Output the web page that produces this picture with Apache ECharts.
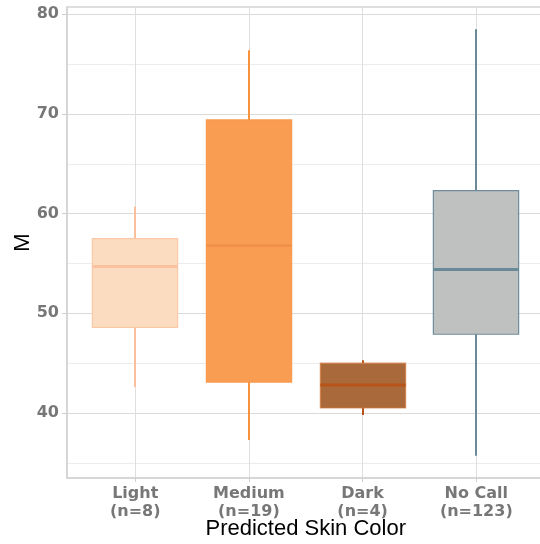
<!DOCTYPE html>
<html>
<head>
<meta charset="utf-8">
<style>
  html, body { margin: 0; padding: 0; background: #ffffff; }
  #chart { width: 540px; height: 544px; }
</style>
<script src="https://cdn.jsdelivr.net/npm/echarts@6/dist/echarts.min.js"></script>
</head>
<body>
<div id="chart"></div>
<script>
// ---- data ----
var categories = ['Light', 'Medium', 'Dark', 'No Call'];
var counts = [8, 19, 4, 123];
var whiskerLow  = [42.6, 37.3, 39.8, 35.7];
var q1          = [48.6, 43.1, 40.5, 47.9];
var median      = [54.7, 56.8, 42.8, 54.4];
var q3          = [57.5, 69.4, 45.0, 62.3];
var whiskerHigh = [60.7, 76.4, 45.3, 78.5];
var yMajorTicks = [40, 50, 60, 70, 80];
var yMinorTicks = [35, 45, 55, 65, 75];

// ---- styles ----
var boxStyles = [
  { fill: '#fcdcc0', stroke: '#fbc9a8', median: '#fac3a0', whisker: '#fbbf9c', medW: 3 },
  { fill: '#f89d52', stroke: '#f89a4e', median: '#f08f4a', whisker: '#f7923f', medW: 2.5 },
  { fill: '#a9693a', stroke: 'rgba(214,120,60,0.75)', median: '#b6541a', whisker: '#b6541a', medW: 3 },
  { fill: '#bfc1c0', stroke: '#6f8d9c', median: '#6b8a99', whisker: '#6b8a99', medW: 3 }
];

var boxData = categories.map(function (c, i) {
  return [i + 1, whiskerLow[i], q1[i], median[i], q3[i], whiskerHigh[i]];
});

var chart = echarts.init(document.getElementById('chart'), null, { renderer: 'canvas' });

var option = {
  animation: false,
  backgroundColor: '#ffffff',
  grid: {
    left: 67, top: 7, right: -4.5, bottom: 66,
    show: true, borderColor: '#d3d3d3', borderWidth: 1.5, backgroundColor: 'transparent',
    containLabel: false, outerBoundsMode: 'none'
  },
  xAxis: {
    type: 'value', min: 0.4, max: 4.6,
    name: 'Predicted Skin Color', nameLocation: 'middle', nameGap: 40, nameMoveOverlap: false,
    nameTextStyle: { fontFamily: 'Liberation Sans', fontSize: 22, color: '#000000' },
    axisLine: { show: true, lineStyle: { color: '#d3d3d3', width: 1.5 } },
    axisTick: { show: true, length: 4, customValues: [1, 2, 3, 4], lineStyle: { color: '#cfcfcf', width: 1 } },
    axisLabel: {
      show: true, customValues: [1, 2, 3, 4], margin: 7,
      fontFamily: 'DejaVu Sans', fontWeight: 'bold', fontSize: 16, lineHeight: 18, color: '#777777',
      formatter: function (v) {
        var i = Math.round(v) - 1;
        return categories[i] + '\n(n=' + counts[i] + ')';
      }
    },
    splitLine: { show: true, lineStyle: { color: '#dedede', width: 1 } }
  },
  yAxis: [
    {
      type: 'value', min: 33.48, max: 80.73,
      name: 'M', nameLocation: 'middle', nameGap: 33, nameRotate: 90, nameMoveOverlap: false,
      nameTextStyle: { fontFamily: 'Liberation Sans', fontSize: 22, color: '#000000' },
      axisLine: { show: true, lineStyle: { color: '#d3d3d3', width: 1.5 } },
      axisTick: { show: true, length: 5, customValues: yMajorTicks, lineStyle: { color: '#cfcfcf', width: 1 } },
      axisLabel: {
        show: true, customValues: yMajorTicks, margin: 8,
        fontFamily: 'DejaVu Sans', fontWeight: 'bold', fontSize: 16, color: '#777777'
      },
      splitLine: { show: true, lineStyle: { color: '#dadada', width: 1 } }
    },
    {
      type: 'value', min: 33.48, max: 80.73, position: 'left',
      axisLine: { show: false },
      axisTick: { show: false, customValues: yMinorTicks },
      axisLabel: { show: false, customValues: yMinorTicks },
      splitLine: { show: true, lineStyle: { color: '#ececec', width: 1 } }
    }
  ],
  series: [
    {
      type: 'custom',
      xAxisIndex: 0, yAxisIndex: 0,
      data: boxData,
      encode: { x: 0, y: [1, 2, 3, 4, 5] },
      renderItem: function (params, api) {
        var x = api.value(0);
        var lo = api.coord([x, api.value(1)]);
        var a = api.coord([x, api.value(2)]);
        var md = api.coord([x, api.value(3)]);
        var b = api.coord([x, api.value(4)]);
        var hi = api.coord([x, api.value(5)]);
        var w = api.size([0.75, 0])[0];
        var s = boxStyles[params.dataIndex];
        var cx = Math.round(a[0]);
        return {
          type: 'group',
          children: [
            { type: 'line', shape: { x1: cx, y1: hi[1], x2: cx, y2: b[1] },
              style: { stroke: s.whisker, lineWidth: 2 } },
            { type: 'line', shape: { x1: cx, y1: lo[1], x2: cx, y2: a[1] },
              style: { stroke: s.whisker, lineWidth: 2 } },
            { type: 'rect', shape: { x: cx - w / 2, y: b[1], width: w, height: a[1] - b[1] },
              style: { fill: s.fill, stroke: s.stroke, lineWidth: 1.2 } },
            { type: 'line', shape: { x1: cx - w / 2, y1: md[1], x2: cx + w / 2, y2: md[1] },
              style: { stroke: s.median, lineWidth: s.medW } }
          ]
        };
      }
    }
  ]
};
chart.setOption(option);
</script>
</body>
</html>
